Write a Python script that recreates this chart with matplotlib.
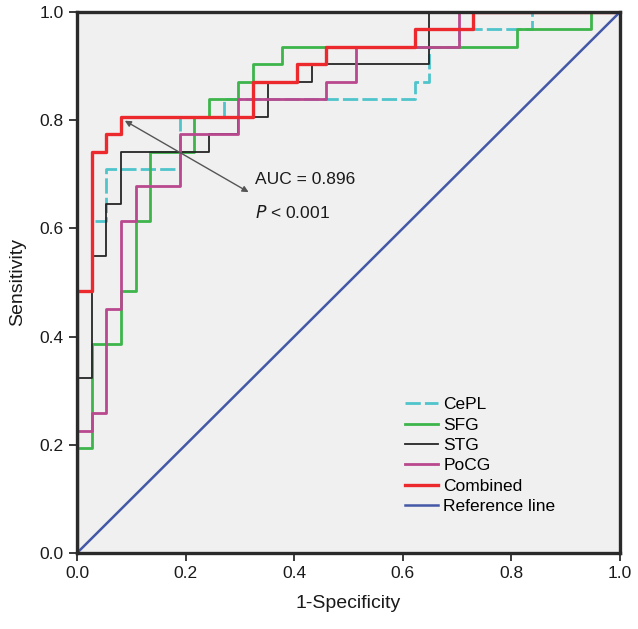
import matplotlib
matplotlib.use("Agg")
import numpy as np
import matplotlib.pyplot as plt

plt.rcParams['font.family'] = ['Liberation Sans', 'DejaVu Sans']

# ROC step vertices, counted in negatives (37) and positives (31)
n_neg = 37
n_pos = 31

cepl_fp = [0, 0, 1, 1, 2, 2, 7, 7, 10, 10, 23, 23, 24, 24, 26, 26, 31, 31, 37]
cepl_tp = [0, 15, 15, 19, 19, 22, 22, 25, 25, 26, 26, 27, 27, 29, 29, 30, 30, 31, 31]

sfg_fp = [0, 0, 1, 1, 3, 3, 4, 4, 5, 5, 8, 8, 9, 9, 11, 11, 12, 12, 14, 14, 30, 30, 35, 35, 37]
sfg_tp = [0, 6, 6, 12, 12, 15, 15, 19, 19, 23, 23, 25, 25, 26, 26, 27, 27, 28, 28, 29, 29, 30, 30, 31, 31]

stg_fp = [0, 0, 1, 1, 2, 2, 3, 3, 9, 9, 11, 11, 13, 13, 16, 16, 24, 24, 37]
stg_tp = [0, 10, 10, 17, 17, 20, 20, 23, 23, 24, 24, 25, 25, 27, 27, 28, 28, 31, 31]

pocg_fp = [0, 0, 1, 1, 2, 2, 3, 3, 4, 4, 7, 7, 11, 11, 17, 17, 19, 19, 26, 26, 37]
pocg_tp = [0, 7, 7, 8, 8, 14, 14, 19, 19, 21, 21, 24, 24, 26, 26, 27, 27, 29, 29, 31, 31]

comb_fp = [0, 0, 1, 1, 2, 2, 3, 3, 12, 12, 15, 15, 17, 17, 23, 23, 27, 27, 37]
comb_tp = [0, 15, 15, 23, 23, 24, 24, 25, 25, 27, 27, 28, 28, 29, 29, 30, 30, 31, 31]

ref_x = [0, 1]
ref_y = [0, 1]

ticks = [0.0, 0.2, 0.4, 0.6, 0.8, 1.0]
tick_labels = ["0.0", "0.2", "0.4", "0.6", "0.8", "1.0"]

fig = plt.figure(figsize=(6.38, 6.29), dpi=100)
ax = fig.add_axes([0.1207, 0.1208, 0.8511, 0.8602])
ax.set_facecolor("#f0f0f0")

def frac(vals, n):
    return np.array(vals) / n

ax.plot(frac(cepl_fp, n_neg), frac(cepl_tp, n_pos), color="#4fc4cb", lw=2.0,
        dashes=(5.5, 1.5), label="CePL")
ax.plot(frac(sfg_fp, n_neg), frac(sfg_tp, n_pos), color="#3db54a", lw=2.0, label="SFG")
ax.plot(frac(stg_fp, n_neg), frac(stg_tp, n_pos), color="#262626", lw=1.3, label="STG")
ax.plot(frac(pocg_fp, n_neg), frac(pocg_tp, n_pos), color="#b9488e", lw=2.0, label="PoCG")
ax.plot(frac(comb_fp, n_neg), frac(comb_tp, n_pos), color="#ec2a2e", lw=2.4, label="Combined")
ax.plot(ref_x, ref_y, color="#4358a6", lw=1.8, label="Reference line")

# annotation
ax.annotate("", xy=(0.088, 0.799), xytext=(0.316, 0.667),
            arrowprops=dict(arrowstyle="<|-|>", color="#555555", lw=1.0,
                            mutation_scale=9, shrinkA=0, shrinkB=0))
ax.text(0.328, 0.69, "AUC = 0.896", fontsize=12.5, va="center", ha="left", color="#1a1a1a")
ax.text(0.328, 0.63, r"$\it{P}$ < 0.001", fontsize=12.5, va="center", ha="left", color="#1a1a1a")

ax.set_xlim(0, 1)
ax.set_ylim(0, 1)
ax.set_xticks(ticks)
ax.set_xticklabels(tick_labels)
ax.set_yticks(ticks)
ax.set_yticklabels(tick_labels)
ax.tick_params(direction="out", length=6, width=1.2, labelsize=12.5, colors="#1a1a1a")
for sp in ax.spines.values():
    sp.set_linewidth(2.4)
    sp.set_color("#2a2a2a")
    sp.set_zorder(5)

ax.set_xlabel("1-Specificity", fontsize=14, labelpad=10, color="#1a1a1a")
ax.set_ylabel("Sensitivity", fontsize=14, labelpad=10, color="#1a1a1a")

ax.legend(loc="upper left", bbox_to_anchor=(0.604, 0.288), frameon=False,
          fontsize=12.5, handlelength=1.9, handletextpad=0.3, labelspacing=0.3,
          borderpad=0, borderaxespad=0)

fig.savefig("out.png", dpi=100)
